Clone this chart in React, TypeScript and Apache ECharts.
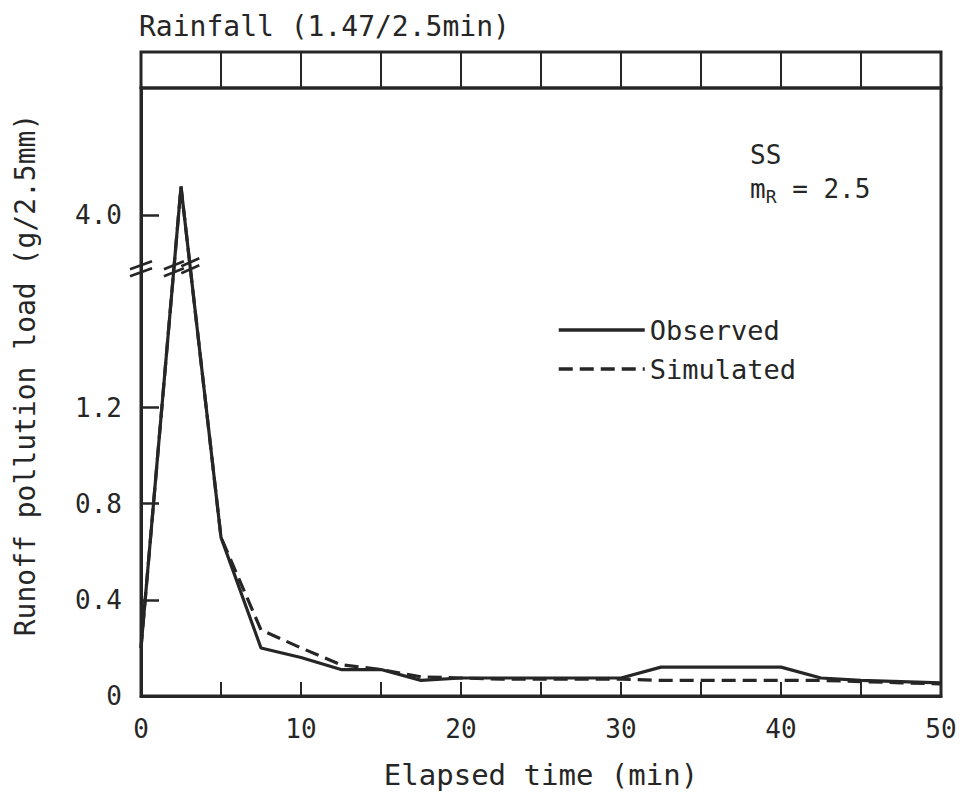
import React, { useEffect, useRef } from 'react';
import * as echarts from 'echarts';

// ---- data ----
const minutes = [0, 2.5, 5, 7.5, 10, 12.5, 15, 17.5, 20, 22.5, 25, 27.5, 30, 32.5, 35, 37.5, 40, 42.5, 45, 47.5, 50];
const observed = [0.2, 4.12, 0.66, 0.2, 0.16, 0.11, 0.11, 0.065, 0.075, 0.075, 0.075, 0.075, 0.075, 0.12, 0.12, 0.12, 0.12, 0.075, 0.065, 0.06, 0.055];
const simulated = [0.2, 4.12, 0.66, 0.275, 0.2, 0.13, 0.11, 0.08, 0.075, 0.07, 0.07, 0.07, 0.07, 0.065, 0.065, 0.065, 0.065, 0.065, 0.06, 0.055, 0.05];
const yLabelValues = [0, 0.4, 0.8, 1.2, 4.0];
const yTickValues = [0.4, 0.8, 1.2, 4.0];
const xLabelValues = [0, 10, 20, 30, 40, 50];
const xTickValues = [5, 10, 15, 20, 25, 30, 35, 40, 45];

// broken y axis: values above the break are shifted down
const BREAK_AT = 1.78; // display value where the break marks sit
const BREAK_SHIFT = 2.0; // 4.0 is drawn at display 2.0
const toDisplay = (v: number) => (v > 3 ? v - BREAK_SHIFT : v);
const fromDisplay = (d: number) => (d > BREAK_AT ? d + BREAK_SHIFT : d);

const FONT = '"DejaVu Sans Mono", monospace';
const INK = '#262626';

export default function App() {
  const ref = useRef<HTMLDivElement>(null);
  useEffect(() => {
    if (!ref.current) return;
    const chart = echarts.init(ref.current, undefined, { renderer: 'svg' });
    const obsData = minutes.map((m, i) => [m, toDisplay(observed[i])]);
    const simData = minutes.map((m, i) => [m, toDisplay(simulated[i])]);
    const option: any = {
      animation: false,
      backgroundColor: '#fff',
      title: {
        text: 'Rainfall (1.47/2.5min)',
        left: 139,
        top: 12,
        padding: 0,
        textStyle: { fontFamily: FONT, fontSize: 28, fontWeight: 'normal', color: INK },
      },
      legend: {
        orient: 'vertical',
        left: 557,
        top: 316,
        padding: 0,
        itemWidth: 86,
        itemHeight: 14,
        itemGap: 11,
        data: ['Observed', 'Simulated'],
        itemStyle: { opacity: 0, borderWidth: 0 },
        lineStyle: { width: 3.5 },
        textStyle: { fontFamily: FONT, fontSize: 27, color: INK, lineHeight: 28 },
      },
      grid: [
        { left: 141, right: 21, top: 88, bottom: 103, show: true, borderColor: INK, borderWidth: 3, backgroundColor: 'transparent' },
        { left: 141, right: 21, top: 52, height: 36, show: true, borderColor: INK, borderWidth: 3, backgroundColor: 'transparent' },
      ],
      xAxis: [
        {
          type: 'value',
          gridIndex: 0,
          min: 0,
          max: 50,
          interval: 5,
          name: 'Elapsed time (min)',
          nameLocation: 'middle',
          nameGap: 64,
          nameTextStyle: { fontFamily: FONT, fontSize: 29, color: INK },
          axisLine: { show: true, lineStyle: { color: INK, width: 3 } },
          axisTick: { show: true, inside: true, length: 14, customValues: xTickValues, lineStyle: { color: INK, width: 2 } },
          axisLabel: { customValues: xLabelValues, margin: 20, fontFamily: FONT, fontSize: 26, color: INK },
          splitLine: { show: false },
        },
        {
          type: 'value',
          gridIndex: 1,
          min: 0,
          max: 50,
          interval: 5,
          axisLine: { show: false },
          axisTick: { show: false },
          axisLabel: { show: false },
          splitLine: { show: true, lineStyle: { color: INK, width: 2 } },
        },
      ],
      yAxis: [
        {
          type: 'value',
          gridIndex: 0,
          min: 0,
          max: 2.53,
          interval: 0.4,
          name: 'Runoff pollution load (g/2.5mm)',
          nameLocation: 'middle',
          nameGap: 102,
          nameTextStyle: { fontFamily: FONT, fontSize: 28, color: INK, padding: [0, 0, 0, 34] },
          axisLine: { show: true, lineStyle: { color: INK, width: 3 } },
          axisTick: { show: true, inside: true, length: 18, customValues: yTickValues.map(toDisplay), lineStyle: { color: INK, width: 2.5 } },
          axisLabel: {
            customValues: yLabelValues.map(toDisplay),
            formatter: (v: number) => (v === 0 ? '0' : fromDisplay(v).toFixed(1)),
            margin: 19,
            fontFamily: FONT,
            fontSize: 26,
            color: INK,
          },
          splitLine: { show: false },
        },
        { type: 'value', gridIndex: 1, min: 0, max: 1, show: false, splitLine: { show: false } },
      ],
      series: [
        {
          name: 'Observed',
          type: 'line',
          xAxisIndex: 0,
          yAxisIndex: 0,
          data: obsData,
          symbol: 'none',
          lineStyle: { color: INK, width: 3.2 },
          itemStyle: { color: INK },
          z: 3,
        },
        {
          name: 'Simulated',
          type: 'line',
          xAxisIndex: 0,
          yAxisIndex: 0,
          data: simData,
          symbol: 'none',
          lineStyle: { color: INK, width: 3.2, type: [14, 7] },
          itemStyle: { color: INK },
          z: 4,
        },
      ],
    };
    chart.setOption(option);

    // break marks, placed through the chart's own scales
    const crossing = (from: number[], to: number[]) => {
      const t = (BREAK_AT - from[1]) / (to[1] - from[1]);
      return from[0] + t * (to[0] - from[0]);
    };
    const riseX = crossing(obsData[0], obsData[1]);
    const fallX = crossing(obsData[1], obsData[2]);
    const axisPt = chart.convertToPixel({ gridIndex: 0 }, [0, BREAK_AT]) as number[];
    const risePt = chart.convertToPixel({ gridIndex: 0 }, [riseX, BREAK_AT]) as number[];
    const fallPt = chart.convertToPixel({ gridIndex: 0 }, [fallX, BREAK_AT]) as number[];
    const marks = (p: number[], half: number) => [0, 7].map((off) => ({
      type: 'line',
      shape: { x1: p[0] - half, y1: p[1] + 4 + off, x2: p[0] + half, y2: p[1] - 4 + off },
      style: { stroke: INK, lineWidth: 2.5 },
      z: 10,
    }));
    const graphic: any[] = [
      ...marks([axisPt[0], axisPt[1] - 3], 11),
      ...marks([risePt[0], risePt[1] - 3], 10),
      ...marks([fallPt[0], fallPt[1] - 6], 9),
      {
        type: 'text',
        left: 750,
        top: 142,
        style: { text: 'SS', fontFamily: FONT, fontSize: 26, fill: INK },
        z: 10,
      },
      {
        type: 'text',
        left: 750,
        top: 176,
        style: {
          text: '{m|m}{r|R}{m| = 2.5}',
          rich: {
            m: { fontFamily: FONT, fontSize: 26, lineHeight: 32, fill: INK, color: INK },
            r: { fontFamily: FONT, fontSize: 18, lineHeight: 16, verticalAlign: 'bottom', fill: INK, color: INK },
          },
        },
        z: 10,
      },
    ];
    chart.setOption({ graphic });
    return () => chart.dispose();
  }, []);
  return <div ref={ref} style={{ position: 'absolute', left: 0, top: 0, width: 962, height: 799 }} />;
}
